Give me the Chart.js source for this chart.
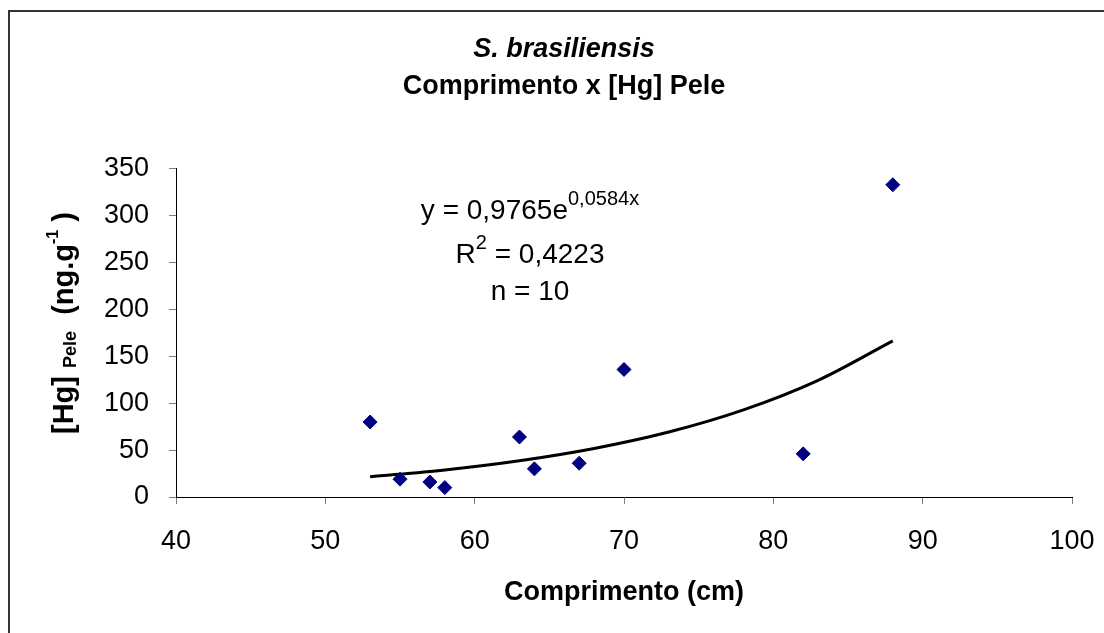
<!DOCTYPE html>
<html>
<head>
<meta charset="utf-8">
<script src="https://cdn.jsdelivr.net/npm/chart.js@4"></script>
<style>
html, body { margin: 0; padding: 0; background: #fff; }
</style>
</head>
<body>
<canvas id="scatterChart" width="1104" height="633"></canvas>
<script>
// Dados: comprimento (cm) x [Hg] pele (ng/g)
const comprimento = [53, 55, 57, 58, 63, 64, 67, 70, 82, 88];
const hgPele = [80, 19, 16, 10, 64, 30, 36, 136, 46, 333];

// Linha de tendência exponencial
const tendX = [53, 58, 63, 68, 73, 78, 83, 88];
const tendY = [21.6, 28.9, 38.7, 51.8, 69.3, 92.9, 124.4, 166.5];

const xTicks = [40, 50, 60, 70, 80, 90, 100];
const yTicks = [0, 50, 100, 150, 200, 250, 300, 350];

const FONTE = 'Liberation Sans, Arial, sans-serif';

// escreve pedaços de texto com tamanhos/deslocamentos diferentes, centrado em cx
function textoRico(c, partes, cx, y) {
  let total = 0;
  partes.forEach(p => {
    c.font = (p.b ? 'bold ' : '') + p.s + 'px ' + FONTE;
    p.w = c.measureText(p.t).width;
    total += p.w;
  });
  let x = cx - total / 2;
  partes.forEach(p => {
    c.font = (p.b ? 'bold ' : '') + p.s + 'px ' + FONTE;
    c.fillText(p.t, x, y + (p.dy || 0));
    x += p.w;
  });
}

const extras = {
  id: 'extras',
  afterDraw(chart) {
    const c = chart.ctx;
    c.save();
    // moldura
    c.strokeStyle = '#333';
    c.lineWidth = 2;
    c.beginPath();
    c.moveTo(9, 633);
    c.lineTo(9, 11);
    c.lineTo(1104, 11);
    c.stroke();

    c.fillStyle = '#000';
    c.textBaseline = 'alphabetic';
    // equação
    textoRico(c, [{t: 'y = 0,9765e', s: 28}, {t: '0,0584x', s: 20, dy: -14}], 530, 219);
    textoRico(c, [{t: 'R', s: 28}, {t: '2', s: 20, dy: -14}, {t: ' = 0,4223', s: 28}], 530, 263);
    textoRico(c, [{t: 'n = 10', s: 28}], 530, 300);

    // título do eixo y
    c.translate(73, 323);
    c.rotate(-Math.PI / 2);
    textoRico(c, [
      {t: '[Hg] ', s: 29, b: true},
      {t: 'Pele', s: 18, b: true, dy: 3},
      {t: '  (ng.g', s: 29, b: true},
      {t: '-1', s: 16, b: true, dy: -15},
      {t: ' )', s: 29, b: true}
    ], 0, 0);
    c.restore();
  }
};

const ctx = document.getElementById('scatterChart').getContext('2d');
const chart = new Chart(ctx, {
  type: 'scatter',
  data: {
    datasets: [{
      label: '[Hg] Pele',
      data: comprimento.map((x, i) => ({x: x, y: hgPele[i]})),
      pointStyle: 'rectRot',
      pointRadius: 7,
      backgroundColor: '#000080',
      borderColor: '#000080',
      borderWidth: 1,
      order: 1
    }, {
      label: 'Tendência',
      type: 'line',
      data: tendX.map((x, i) => ({x: x, y: tendY[i]})),
      borderColor: '#000',
      borderWidth: 3,
      pointRadius: 0,
      fill: false,
      cubicInterpolationMode: 'monotone',
      order: 2
    }]
  },
  options: {
    responsive: false,
    animation: false,
    layout: {padding: {left: 56, top: 10, right: 32, bottom: 0}},
    plugins: {
      legend: {display: false},
      tooltip: {enabled: false},
      title: {
        display: true,
        text: 'S. brasiliensis',
        color: '#000',
        font: {family: FONTE, size: 27, weight: 'bold', style: 'italic'},
        padding: {top: 23, bottom: 0}
      },
      subtitle: {
        display: true,
        text: 'Comprimento x [Hg] Pele',
        color: '#000',
        font: {family: FONTE, size: 27, weight: 'bold'},
        padding: {top: 5, bottom: 66}
      }
    },
    scales: {
      x: {
        type: 'linear',
        min: 40,
        max: 100,
        afterBuildTicks: s => { s.ticks = xTicks.map(v => ({value: v})); },
        afterFit: s => { s.height = 136; s.paddingLeft = 0; s.paddingRight = 0; },
        ticks: {color: '#000', font: {family: FONTE, size: 27}, padding: 21},
        grid: {drawOnChartArea: false, tickLength: 7, tickColor: '#808080'},
        border: {color: '#000', width: 1},
        title: {
          display: true,
          text: 'Comprimento (cm)',
          color: '#000',
          font: {family: FONTE, size: 27, weight: 'bold'},
          padding: {top: 0, bottom: 24}
        }
      },
      y: {
        type: 'linear',
        min: 0,
        max: 350,
        afterBuildTicks: s => { s.ticks = yTicks.map(v => ({value: v})); },
        afterFit: s => { s.width = 120; },
        ticks: {color: '#000', font: {family: FONTE, size: 27}, padding: 20},
        grid: {drawOnChartArea: false, tickLength: 7, tickColor: '#808080'},
        border: {color: '#000', width: 1}
      }
    }
  },
  plugins: [extras]
});
</script>
</body>
</html>
